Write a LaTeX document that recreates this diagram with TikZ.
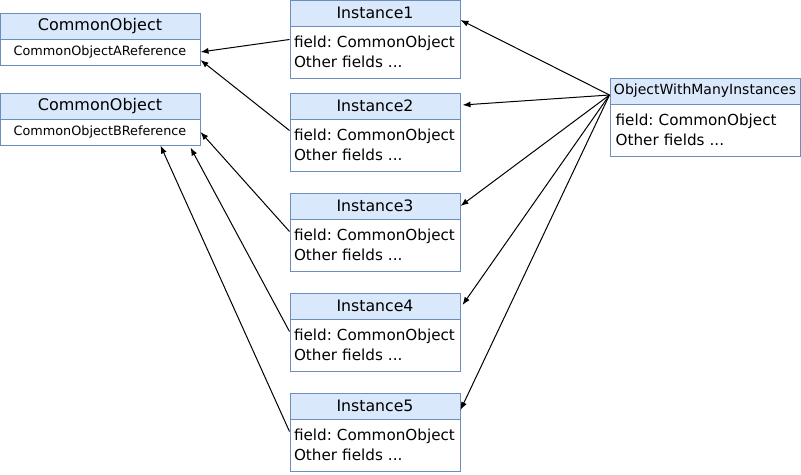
\documentclass[tikz,border=0pt]{standalone}
\usepackage{fontspec}
\setmainfont{DejaVu Sans}
\usetikzlibrary{arrows.meta,calc}
\definecolor{hdrfill}{HTML}{DAE8FC}
\definecolor{hdrline}{HTML}{6C8EBF}
\begin{document}
\begin{tikzpicture}[x=0.75pt,y=-0.75pt,
  hdr/.style={draw=hdrline,fill=hdrfill,line width=0.75pt,rectangle,inner sep=0pt,minimum height=19.5pt,font=\fontsize{11.8}{13}\selectfont},
  bdy/.style={draw=hdrline,fill=white,line width=0.75pt,rectangle,inner sep=0pt,font=\fontsize{11.4}{15}\selectfont},
  instb/.style={bdy,minimum height=39pt,text width=121.5pt,inner xsep=3pt,align=left},
  refb/.style={bdy,minimum height=19.5pt,minimum width=150pt,font=\fontsize{9.6}{11}\selectfont},
  conn/.style={line width=0.75pt,-{Latex[length=6pt,width=4.5pt]}}]
\useasboundingbox (0,0) rectangle (801,475);
% Common objects
\node[hdr,minimum width=150pt,font=\fontsize{12}{13}\selectfont] (ah) at (100,26) {CommonObject};
\node[refb] (ab) at (100,52) {\raisebox{-1.5pt}{CommonObjectAReference}};
\node[hdr,minimum width=150pt,font=\fontsize{12}{13}\selectfont] (bh) at (100,106) {CommonObject};
\node[refb] (bb) at (100,132) {\raisebox{-1.5pt}{CommonObjectBReference}};
% Instances
\foreach \n/\y in {1/0,2/93,3/193,4/293,5/393}{
  \node[hdr,minimum width=127.5pt] (i\n h) at (375,\y+13) {Instance\n};
  \node[instb] (i\n b) at (375,\y+52) {field:~CommonObject\\Other fields ...};
}
% Object with many instances
\node[hdr,minimum width=142.5pt,font=\fontsize{10.5}{12}\selectfont] (oh) at (705,91) {ObjectWithManyInstances};
\node[bdy,minimum height=39pt,text width=134pt,inner xsep=4.25pt,align=left] (ob) at (705,130) {field:~CommonObject\\Other fields ...};
\coordinate (src) at ($(oh.west)+(0,4)$);
% connectors to common objects
\draw[conn] ($(i1b.north west)+(0,14)$) -- (ab.east);
\draw[conn] ($(i2b.north west)+(0,12)$) -- ($(ab.east)+(0,8)$);
\draw[conn] ($(i3b.north west)+(0,13)$) -- (bb.east);
\draw[conn] ($(i4b.north west)+(0,13)$) -- ($(bb.south east)+(-10,2)$);
\draw[conn] ($(i5b.north west)+(0,13)$) -- ($(bb.south east)+(-40,0)$);
% connectors from object with many instances
\draw[conn] (src) -- ($(i1h.east)+(0,7)$);
\draw[conn] (src) -- ($(i2h.east)+(2,-1)$);
\draw[conn] (src) -- (i3h.east);
\draw[conn] (src) -- ($(i4h.east)+(2,-1)$);
\draw[conn] (src) -- ($(i5h.east)+(0,4)$);
\end{tikzpicture}
\end{document}
